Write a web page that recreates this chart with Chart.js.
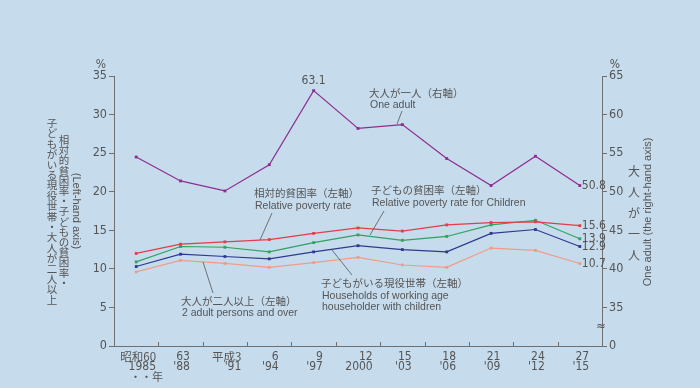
<!DOCTYPE html>
<html>
<head>
<meta charset="utf-8">
<script src="https://cdn.jsdelivr.net/npm/chart.js@4.4.0/dist/chart.umd.min.js"></script>
<style>
  html, body { margin: 0; padding: 0; background: #c6dbec; }
  #wrap { width: 700px; height: 388px; }
</style>
</head>
<body>
<div id="wrap"><canvas id="myChart" width="700" height="388"></canvas></div>
<script>
// Survey years (era label / western year)
const eraLabels = ['昭和60', '63', '平成3', '6', '9', '12', '15', '18', '21', '24', '27'];
const yearLabels = ['1985', "'88", "'91", "'94", "'97", '2000', "'03", "'06", "'09", "'12", "'15"];

// Poverty rates (%)
const oneAdult = [54.5, 51.4, 50.1, 53.5, 63.1, 58.2, 58.7, 54.3, 50.8, 54.6, 50.8];       // right axis
const relativeRate = [12.0, 13.2, 13.5, 13.8, 14.6, 15.3, 14.9, 15.7, 16.0, 16.1, 15.6];
const childRate = [10.9, 12.9, 12.8, 12.2, 13.4, 14.4, 13.7, 14.2, 15.7, 16.3, 13.9];
const workingHouseholds = [10.3, 11.9, 11.6, 11.3, 12.2, 13.0, 12.5, 12.2, 14.6, 15.1, 12.9];
const twoAdults = [9.6, 11.1, 10.7, 10.2, 10.8, 11.5, 10.5, 10.2, 12.7, 12.4, 10.7];

const GREY = '#555';
const AXIS = '#6f6f6f';
const NUM_FONT = "'Liberation Sans Narrow', 'DejaVu Sans Condensed', sans-serif";
const JP_FONT = "'Noto Sans CJK JP', sans-serif";
const EN_FONT = "'Liberation Sans', Arial, sans-serif";

function series(label, data, color, axis) {
    return {
        label: label,
        data: data,
        yAxisID: axis,
        borderColor: color,
        backgroundColor: color,
        borderWidth: 1.2,
        pointStyle: 'rect',
        pointRadius: 2,
        pointBorderWidth: 0,
        tension: 0
    };
}

// Paint the light blue page
const bgPlugin = {
    id: 'bg',
    beforeDraw(chart) {
        const c = chart.ctx;
        c.save();
        c.fillStyle = '#c6dbec';
        c.fillRect(0, 0, chart.width, chart.height);
        c.restore();
    }
};

function vText(ctx, str, x, y0, step) {
    const chars = Array.from(str);
    for (let i = 0; i < chars.length; i++) {
        ctx.fillText(chars[i], x, y0 + i * step);
    }
}

function lines(ctx, arr, x, y0, lh) {
    arr.forEach((t, i) => ctx.fillText(t, x, y0 + i * lh));
}

function leader(ctx, x1, y1, x2, y2) {
    ctx.beginPath();
    ctx.moveTo(x1, y1);
    ctx.lineTo(x2, y2);
    ctx.stroke();
}

// Axis decorations, tick labels and annotations
const textPlugin = {
    id: 'texts',
    afterDraw(chart) {
        const ctx = chart.ctx;
        const xs = chart.scales.x, ys = chart.scales.y, ys2 = chart.scales.y2;
        const area = chart.chartArea;
        ctx.save();
        ctx.fillStyle = GREY;
        ctx.strokeStyle = AXIS;
        ctx.lineWidth = 1;

        // x ticks between categories, pointing up
        const step = xs.getPixelForValue(1) - xs.getPixelForValue(0);
        for (let i = 1; i <= eraLabels.length; i++) {
            const px = Math.round(xs.getPixelForValue(i) - step / 2) + 0.5;
            leader(ctx, px, area.bottom, px, area.bottom - 4);
        }

        // x labels: longest line centred, lines right-aligned
        ctx.font = '12px ' + NUM_FONT;
        ctx.textBaseline = 'middle';
        ctx.textAlign = 'right';
        for (let i = 0; i < eraLabels.length; i++) {
            const cx = xs.getPixelForValue(i);
            const w = Math.max(ctx.measureText(eraLabels[i]).width, ctx.measureText(yearLabels[i]).width);
            const rx = cx + w / 2 + 1;
            ctx.font = (i === 0 || i === 2 ? '11.5px ' + JP_FONT : '12px ' + NUM_FONT);
            ctx.fillText(eraLabels[i], rx, area.bottom + 11);
            ctx.font = '12px ' + NUM_FONT;
            ctx.fillText(yearLabels[i], rx, area.bottom + 21);
        }
        ctx.font = '11px ' + JP_FONT;
        ctx.fillText('・・年', 163, area.bottom + 31);

        // % marks
        ctx.font = '12px ' + NUM_FONT;
        ctx.textAlign = 'center';
        ctx.fillText('%', area.left - 13, area.top - 11);
        ctx.fillText('%', area.right + 13, area.top - 11);

        // axis break on the right axis
        ctx.font = '13px ' + NUM_FONT;
        ctx.fillText('≈', area.right - 1, ys2.getPixelForValue(32.5));

        // end labels
        ctx.font = '12px ' + NUM_FONT;
        ctx.textAlign = 'left';
        const last = eraLabels.length - 1;
        const ex = xs.getPixelForValue(last) + 2;
        ctx.fillText(String(relativeRate[last]), ex, ys.getPixelForValue(relativeRate[last]));
        ctx.fillText(String(childRate[last]), ex, ys.getPixelForValue(childRate[last]));
        ctx.fillText(String(workingHouseholds[last]), ex, ys.getPixelForValue(workingHouseholds[last]));
        ctx.fillText(String(twoAdults[last]), ex, ys.getPixelForValue(twoAdults[last]));
        ctx.fillText(String(oneAdult[last]), ex, ys2.getPixelForValue(oneAdult[last]));

        // peak label
        ctx.textAlign = 'center';
        ctx.fillText(String(oneAdult[4]), xs.getPixelForValue(4), ys2.getPixelForValue(oneAdult[4]) - 10);

        // left axis title
        ctx.font = '10.5px ' + JP_FONT;
        vText(ctx, '相対的貧困率・子どもの貧困率・', 64, 140, 10.2);
        vText(ctx, '子どもがいる現役世帯・大人が二人以上', 52, 123, 10.4);
        ctx.save();
        ctx.translate(76, 211);
        ctx.rotate(Math.PI / 2);
        ctx.font = '11px ' + EN_FONT;
        ctx.fillText('(Left-hand axis)', 0, 0);
        ctx.restore();

        // right axis title
        ctx.font = '12px ' + JP_FONT;
        vText(ctx, '大人が一人', 634, 171, 21);
        ctx.save();
        ctx.translate(648, 212);
        ctx.rotate(-Math.PI / 2);
        ctx.font = '11px ' + EN_FONT;
        ctx.fillText('One adult (the right-hand axis)', 0, 0);
        ctx.restore();

        // annotations
        ctx.textAlign = 'left';
        ctx.strokeStyle = '#555';
        ctx.lineWidth = 0.8;
        const jp = '10.5px ' + JP_FONT, en = '10.5px ' + EN_FONT;

        ctx.font = jp; ctx.fillText('大人が一人（右軸）', 369, 93);
        ctx.font = en; ctx.fillText('One adult', 370, 105);
        leader(ctx, 402, 111, 397, 124);

        ctx.font = jp; ctx.fillText('相対的貧困率（左軸）', 254, 193);
        ctx.font = en; ctx.fillText('Relative poverty rate', 255, 206);
        leader(ctx, 272, 213, 260, 240);

        ctx.font = jp; ctx.fillText('子どもの貧困率（左軸）', 371, 190);
        ctx.font = en; ctx.fillText('Relative poverty rate for Children', 372, 203);
        leader(ctx, 384, 211, 370, 235);

        ctx.font = jp; ctx.fillText('大人が二人以上（左軸）', 181, 301);
        ctx.font = en; ctx.fillText('2 adult persons and over', 182, 313);
        leader(ctx, 203, 262, 213, 293);

        ctx.font = jp; ctx.fillText('子どもがいる現役世帯（左軸）', 321, 283);
        ctx.font = en;
        lines(ctx, ['Households of working age', 'householder with children'], 322, 296, 11.5);
        leader(ctx, 332, 250, 352, 275);

        ctx.restore();
    }
};

window.onload = function () {
    const ctx = document.getElementById('myChart').getContext('2d');
    new Chart(ctx, {
        type: 'line',
        data: {
            labels: eraLabels,
            datasets: [
                series('大人が一人', oneAdult, '#8c2e8f', 'y2'),
                series('相対的貧困率', relativeRate, '#e53c45', 'y'),
                series('子どもの貧困率', childRate, '#2fa35f', 'y'),
                series('子どもがいる現役世帯', workingHouseholds, '#2d3a8e', 'y'),
                series('大人が二人以上', twoAdults, '#f29c85', 'y')
            ]
        },
        options: {
            responsive: false,
            animation: false,
            layout: { padding: { top: 76, right: 0, left: 0, bottom: 0 } },
            scales: {
                x: {
                    offset: true,
                    grid: { display: true, drawOnChartArea: false, drawTicks: false, color: AXIS },
                    border: { display: true, color: AXIS, width: 1 },
                    ticks: { display: false },
                    afterFit: s => { s.height = 42; }
                },
                y: {
                    position: 'left',
                    min: 0, max: 35,
                    grid: { drawOnChartArea: false, drawTicks: true, tickLength: 5, color: AXIS },
                    border: { display: true, color: AXIS, width: 1 },
                    ticks: { stepSize: 5, padding: 2, color: GREY, font: { family: NUM_FONT, size: 12.5 } },
                    afterFit: s => { s.width = 114; }
                },
                y2: {
                    position: 'right',
                    min: 30, max: 65,
                    grid: { drawOnChartArea: false, drawTicks: true, tickLength: 5, color: AXIS },
                    border: { display: true, color: AXIS, width: 1 },
                    ticks: {
                        stepSize: 5, padding: 2, color: GREY, font: { family: NUM_FONT, size: 12.5 },
                        callback: v => (v === 30 ? '0' : v)
                    },
                    afterFit: s => { s.width = 98; }
                }
            },
            plugins: {
                legend: { display: false },
                tooltip: { enabled: false }
            }
        },
        plugins: [bgPlugin, textPlugin]
    });
};
</script>
</body>
</html>
